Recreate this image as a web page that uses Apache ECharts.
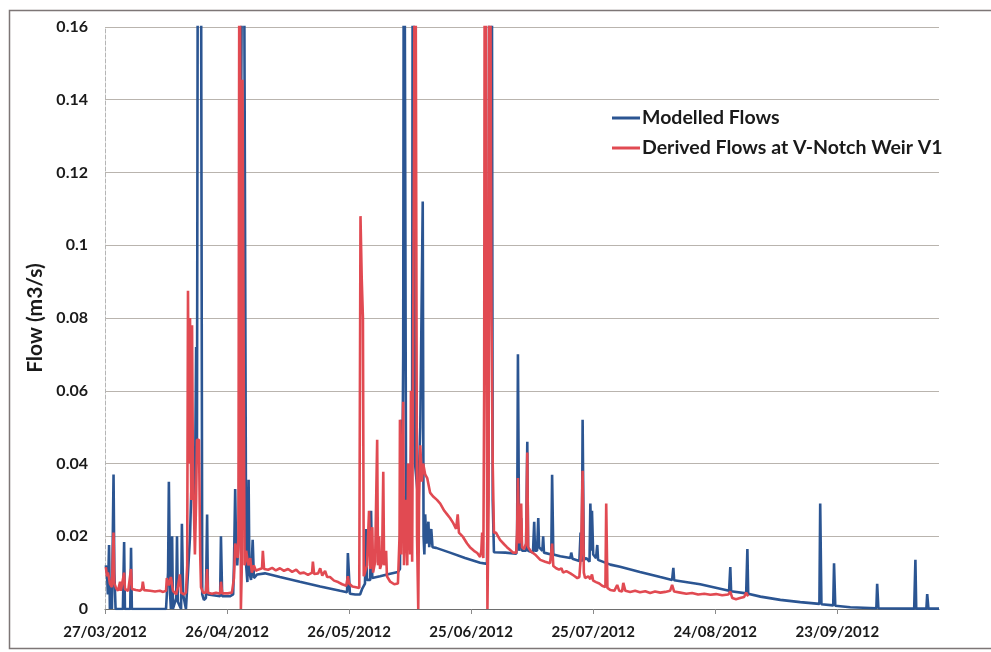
<!DOCTYPE html>
<html>
<head>
<meta charset="utf-8">
<script src="https://cdn.jsdelivr.net/npm/echarts@6/dist/echarts.min.js"></script>
<style>
  html, body { margin: 0; padding: 0; background: #ffffff; }
  #chart { width: 991px; height: 652px; }
</style>
</head>
<body>
<div id="chart"></div>
<script>
// Day 0 of the horizontal axis; x values below are days elapsed since this date.
const startDate = Date.UTC(2012, 2, 27);
const axisDays = 205;
const tickDays = [0, 30, 60, 90, 120, 150, 180];
const flowTicks = [0, 0.02, 0.04, 0.06, 0.08, 0.1, 0.12, 0.14, 0.16];

const seriesNames = ['Modelled Flows', 'Derived Flows at V-Notch Weir V1'];

// Modelled flows, [day, m3/s]
const modelledFlows = [
  [0.2,0.012],[0.5,0.010],[0.7,0.004],[1.0,0.0176],[1.2,0.0],[1.5,0.008],[1.7,0.0],
  [2.1,0.037],[2.3,0.010],[2.6,0.0],[4.4,0.0],[4.7,0.0184],[4.9,0.0],[6.2,0.0],
  [6.4,0.0168],[6.6,0.0],[15.0,0.0],[15.5,0.010],[15.7,0.035],[16.0,0.004],[16.2,0.0],
  [16.5,0.020],[16.7,0.0],[17.5,0.003],[17.7,0.020],[17.9,0.002],[18.7,0.0],[18.9,0.0234],
  [19.2,0.004],[19.9,0.0],[20.2,0.006],[20.9,0.020],[21.4,0.040],[22.1,0.030],[22.4,0.072],
  [22.6,0.040],[22.9,0.25],[23.1,0.25],[23.3,0.25],[23.5,0.25],[23.9,0.004],[24.3,0.0025],
  [24.8,0.003],[25.1,0.026],[25.3,0.004],[28.3,0.0035],[28.5,0.020],[28.8,0.0035],
  [30.7,0.0035],[31.5,0.004],[31.7,0.012],[32.0,0.033],[32.2,0.018],[32.5,0.012],[32.9,0.020],
  [34.0,0.25],[34.4,0.25],[34.7,0.012],[35.0,0.0074],[35.3,0.0355],[35.5,0.010],[35.9,0.008],
  [36.3,0.019],[36.6,0.0085],[37.4,0.0095],[39.3,0.0098],[43.0,0.0088],[47.9,0.0075],
  [52.9,0.0062],[57.8,0.0050],[59.5,0.0046],[59.7,0.0154],[60.0,0.0154],[60.2,0.0042],
  [61.5,0.0040],[62.7,0.0040],[63.2,0.0055],[63.9,0.007],[64.2,0.022],[64.4,0.008],
  [65.2,0.008],[65.4,0.027],[65.7,0.0085],[67.6,0.009],[70.1,0.0097],[72.0,0.0102],
  [72.5,0.011],[72.8,0.052],[73.0,0.020],[73.3,0.070],[73.5,0.25],[73.8,0.25],[74.0,0.030],
  [74.5,0.017],[75.0,0.025],[75.5,0.060],[75.7,0.25],[76.0,0.25],[76.2,0.040],[77.0,0.030],
  [77.5,0.050],[78.1,0.112],[78.3,0.020],[78.5,0.015],[78.7,0.026],[79.0,0.018],[79.5,0.024],
  [79.7,0.017],[80.2,0.022],[80.5,0.017],[81.4,0.0168],[84.8,0.0155],[88.5,0.014],
  [92.2,0.0127],[93.9,0.0124],[94.3,0.050],[94.5,0.25],[95.0,0.25],[95.3,0.030],[95.6,0.0156],
  [98.4,0.0155],[101.1,0.0152],[101.3,0.020],[101.5,0.070],[101.8,0.016],[102.3,0.025],
  [102.5,0.016],[103.5,0.016],[103.8,0.046],[104.0,0.016],[105.2,0.0155],[105.5,0.024],
  [105.7,0.016],[106.2,0.016],[106.5,0.025],[106.7,0.017],[107.5,0.016],[107.7,0.020],
  [107.9,0.0155],[109.7,0.015],[109.9,0.0369],[110.2,0.015],[111.9,0.0145],[114.4,0.014],
  [114.6,0.0155],[114.9,0.0138],[116.6,0.0132],[116.9,0.021],[117.2,0.013],[117.4,0.052],
  [117.7,0.0135],[118.3,0.014],[119.1,0.013],[119.3,0.029],[119.6,0.016],[119.7,0.027],
  [120.0,0.015],[120.7,0.014],[121.0,0.0176],[121.2,0.0135],[124.2,0.0122],[126.6,0.0116],
  [131.5,0.0102],[136.5,0.0088],[139.4,0.0080],[139.7,0.0113],[139.9,0.0079],[146.3,0.0068],
  [153.4,0.0050],[153.7,0.0115],[153.9,0.0049],[157.6,0.0043],[157.9,0.0165],[158.1,0.0042],
  [161.1,0.0034],[166.0,0.0025],[170.9,0.0019],[175.6,0.0014],[175.8,0.029],[176.1,0.0013],
  [179.0,0.0010],[179.2,0.0126],[179.5,0.0009],[183.2,0.0005],[189.6,0.0002],[189.8,0.0069],
  [190.1,0.0002],[198.9,0.0001],[199.2,0.0135],[199.4,0.0001],[201.9,0.0001],[202.1,0.0041],
  [202.4,0.0001],[205.0,0.0001]
];

// Flows derived at the V-notch weir, [day, m3/s]
const derivedFlows = [
  [0.2,0.0115],[0.5,0.009],[0.7,0.010],[1.0,0.0085],[1.2,0.007],[1.7,0.006],[2.1,0.021],
  [2.3,0.007],[2.7,0.0058],[3.2,0.005],[3.7,0.0075],[3.9,0.005],[4.7,0.010],[4.9,0.0055],
  [5.7,0.005],[6.4,0.011],[6.6,0.0055],[7.6,0.0052],[8.6,0.005],[9.1,0.0055],[9.3,0.0075],
  [9.6,0.0052],[11.1,0.0050],[12.3,0.0048],[13.5,0.0050],[14.3,0.0047],[15.0,0.005],
  [15.2,0.0085],[15.7,0.0065],[16.2,0.0088],[16.7,0.005],[17.5,0.004],[17.9,0.006],
  [18.4,0.0095],[18.7,0.0045],[19.4,0.004],[19.9,0.0045],[20.2,0.012],[20.4,0.0875],
  [20.6,0.040],[20.9,0.080],[21.2,0.030],[21.4,0.078],[21.6,0.040],[22.1,0.015],[22.4,0.030],
  [22.6,0.0465],[23.1,0.0465],[23.4,0.015],[23.6,0.006],[24.1,0.0045],[24.8,0.0045],[25.1,0.011],
  [25.3,0.0045],[26.3,0.0042],[27.3,0.0045],[28.3,0.0042],[28.5,0.0075],[28.8,0.0043],
  [30.2,0.0043],[31.2,0.0045],[31.7,0.0085],[32.0,0.018],[32.3,0.016],[32.6,0.014],
  [32.8,0.020],[33.1,0.25],[33.3,0.25],[33.4,0.0],[33.6,0.010],[33.8,0.1455],[34.0,0.1455],
  [34.3,0.012],[34.7,0.016],[35.2,0.012],[35.7,0.014],[36.1,0.010],[36.6,0.012],[37.1,0.0105],
  [37.6,0.0108],[38.6,0.0112],[38.8,0.016],[39.1,0.011],[40.1,0.0108],[41.1,0.0113],
  [42.0,0.0106],[43.0,0.0112],[44.0,0.0105],[45.0,0.0110],[46.0,0.0102],[47.0,0.0108],
  [47.9,0.0098],[48.9,0.0100],[49.9,0.0094],[50.9,0.0100],[51.1,0.013],[51.4,0.0096],
  [52.4,0.0098],[52.9,0.0112],[53.4,0.0092],[54.1,0.0105],[54.6,0.0088],[55.3,0.0088],
  [56.3,0.0078],[57.3,0.0074],[58.3,0.0068],[59.3,0.0064],[59.7,0.0090],[60.0,0.0070],
  [60.8,0.0062],[61.7,0.0060],[62.5,0.0058],[62.8,0.108],[63.1,0.091],[63.4,0.080],
  [63.6,0.009],[63.9,0.009],[64.4,0.012],[64.9,0.027],[65.2,0.011],[65.7,0.0225],[65.9,0.010],
  [66.4,0.013],[66.9,0.0465],[67.1,0.012],[67.4,0.020],[67.6,0.011],[68.1,0.013],[68.4,0.0377],
  [68.6,0.012],[69.1,0.016],[69.3,0.009],[70.1,0.0075],[71.1,0.0068],[72.0,0.007],[72.4,0.020],
  [72.5,0.052],[72.8,0.015],[73.0,0.035],[73.3,0.057],[73.5,0.012],[73.8,0.030],[74.3,0.012],
  [74.5,0.040],[75.0,0.015],[75.2,0.060],[75.5,0.013],[76.0,0.136],[76.2,0.25],[76.5,0.25],
  [76.7,0.020],[77.0,0.0],[77.2,0.030],[77.5,0.045],[77.9,0.035],[78.2,0.040],[78.7,0.037],
  [79.2,0.036],[79.9,0.032],[80.6,0.031],[81.6,0.030],[82.4,0.029],[83.4,0.027],[84.1,0.026],
  [84.8,0.025],[85.6,0.0236],[86.3,0.022],[86.7,0.026],[87.0,0.021],[88.0,0.0198],[89.0,0.018],
  [89.7,0.017],[90.7,0.016],[91.5,0.0154],[92.2,0.0143],[92.5,0.016],[92.7,0.021],[93.0,0.014],
  [93.2,0.060],[93.4,0.25],[93.7,0.25],[93.9,0.040],[94.0,0.0],[94.3,0.030],[94.5,0.25],
  [94.8,0.25],[95.0,0.080],[95.3,0.040],[95.6,0.021],[96.1,0.021],[97.1,0.019],[98.1,0.0178],
  [98.8,0.017],[99.6,0.0162],[100.3,0.0155],[101.1,0.0155],[101.3,0.022],[101.5,0.036],
  [101.8,0.018],[102.3,0.029],[102.5,0.017],[103.0,0.0165],[103.5,0.018],[103.8,0.043],
  [104.0,0.017],[104.7,0.0158],[105.7,0.015],[107.0,0.0135],[108.2,0.013],[109.4,0.0126],
  [109.9,0.018],[110.2,0.0118],[110.9,0.0112],[111.6,0.0108],[112.2,0.0112],[112.6,0.0100],
  [113.4,0.0104],[114.4,0.0098],[115.2,0.0092],[116.1,0.0085],[116.6,0.0088],[117.0,0.015],
  [117.4,0.038],[117.7,0.010],[118.0,0.0085],[118.8,0.0090],[119.3,0.0082],[119.7,0.0095],
  [120.0,0.0078],[120.7,0.0074],[121.5,0.0070],[122.2,0.0064],[123.0,0.0060],[123.2,0.029],
  [123.5,0.0058],[124.2,0.0052],[125.2,0.0050],[125.9,0.0066],[126.4,0.0050],[127.1,0.0048],
  [127.4,0.0072],[127.9,0.0050],[129.1,0.0047],[130.3,0.0050],[131.5,0.0046],[132.8,0.0049],
  [134.0,0.0044],[135.2,0.0048],[136.5,0.0045],[137.7,0.0047],[138.9,0.0050],[139.4,0.0066],
  [139.9,0.0048],[141.4,0.0045],[142.9,0.0042],[144.3,0.0044],[145.8,0.0040],[147.3,0.0042],
  [148.8,0.0039],[150.2,0.0041],[151.7,0.0038],[153.2,0.0040],[153.7,0.0048],[154.2,0.0030],
  [155.1,0.0027],[156.1,0.0030],[157.1,0.0033],[157.6,0.0045],[158.1,0.0035]
];

function dayLabel(d) {
  const t = new Date(startDate + Math.round(d) * 86400000);
  const dd = String(t.getUTCDate()).padStart(2, '0');
  const mm = String(t.getUTCMonth() + 1).padStart(2, '0');
  return dd + '/' + mm + '/' + t.getUTCFullYear();
}

const textFont = 'Lato';
const chart = echarts.init(document.getElementById('chart'), null, { renderer: 'canvas' });

chart.setOption({
  animation: false,
  backgroundColor: '#ffffff',
  color: ['#2b5592', '#e14a52'],
  graphic: [{
    type: 'rect',
    left: 7, top: 8,
    shape: { width: 1100, height: 638 },
    style: { fill: 'none', stroke: '#7d7676', lineWidth: 1.5 },
    silent: true
  }],
  grid: { left: 105, right: 52, top: 27, bottom: 43, containLabel: false },
  legend: {
    orient: 'vertical',
    left: 607, top: 103,
    itemWidth: 28, itemHeight: 3, itemGap: 10,
    icon: 'rect',
    data: seriesNames,
    textStyle: { fontFamily: textFont, fontWeight: 'bold', fontSize: 19.5, color: '#1a1a1a', padding: [0, 0, 0, -3] }
  },
  xAxis: {
    type: 'value',
    min: 0, max: axisDays, interval: 30,
    axisLine: { show: true, lineStyle: { color: '#6e6e6e', width: 1.2 } },
    axisTick: { show: true, length: 5, customValues: tickDays, lineStyle: { color: '#8a8a8a' } },
    splitLine: { show: false },
    axisLabel: {
      customValues: tickDays,
      margin: 16,
      fontFamily: textFont, fontWeight: 'bold', fontSize: 15, color: '#1a1a1a',
      formatter: dayLabel
    }
  },
  yAxis: {
    type: 'value',
    min: 0, max: 0.16, interval: 0.02,
    name: 'Flow (m3/s)',
    nameLocation: 'middle',
    nameGap: 53,
    nameTextStyle: { fontFamily: textFont, fontWeight: 'bold', fontSize: 21, color: '#1a1a1a' },
    axisLine: { show: true, lineStyle: { color: '#b5b5b5', type: 'dashed', width: 1 } },
    axisTick: { show: false },
    splitLine: { show: true, lineStyle: { color: '#b9b4ae', width: 1 } },
    axisLabel: {
      customValues: flowTicks,
      margin: 17,
      fontFamily: textFont, fontWeight: 'bold', fontSize: 16, color: '#1a1a1a',
      formatter: v => String(+v.toFixed(2))
    }
  },
  series: [
    {
      name: seriesNames[0], type: 'line', data: modelledFlows,
      showSymbol: false, clip: true,
      lineStyle: { width: 2.6, color: '#2b5592' }
    },
    {
      name: seriesNames[1], type: 'line', data: derivedFlows,
      showSymbol: false, clip: true,
      lineStyle: { width: 2.6, color: '#e14a52' }
    }
  ]
});
</script>
</body>
</html>
